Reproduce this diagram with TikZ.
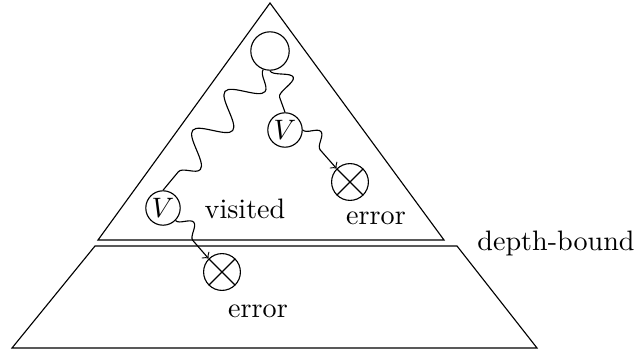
\documentclass[tikz,border=0pt]{standalone}
\usetikzlibrary{decorations.pathmorphing}

\begin{document}
\begin{tikzpicture}[x=0.0125cm,y=-0.0125cm,
  state/.style={draw,circle,inner sep=0pt,minimum size=0.43cm},
  errstate/.style={draw,circle,inner sep=0pt,minimum size=0.46cm,
    path picture={\draw (path picture bounding box.north west) -- (path picture bounding box.south east)
      (path picture bounding box.north east) -- (path picture bounding box.south west);}},
  wiggle/.style={decorate,decoration={snake,amplitude=#1,segment length=15pt}}]
\useasboundingbox (0,0) rectangle (641,352);

\draw (270,3) -- (444,240) -- (98,240) -- cycle;
\draw (95,246) -- (457,246) -- (537,348) -- (12,348) -- cycle;

\node[state,minimum size=0.48cm] (root) at (270,51) {};
\node[state] (visA) at (285,130) {$V$};
\node[state] (visB) at (163,208) {$V$};
\node[errstate] (errA) at (350,182) {};
\node[errstate] (errB) at (222,272) {};

\node (vistext) at (245,209) {visited};
\node (errtextA) at (376,218) {error};
\node (errtextB) at (258,311) {error};
\node (bound) at (556,243) {depth-bound};

\draw[wiggle=7pt,decoration={segment length=16pt}] (root.south) -- (visA.north);
\draw[wiggle=5.5pt,decoration={segment length=18pt}] (root.250) -- (visB.north);
\draw[->,wiggle=4.5pt,decoration={post length=1.5pt}] (visA.east) -- (errA.north west);
\draw[->,wiggle=4.5pt,decoration={post length=1.5pt}] (visB.south east) -- (errB.north west);

\end{tikzpicture}
\end{document}
